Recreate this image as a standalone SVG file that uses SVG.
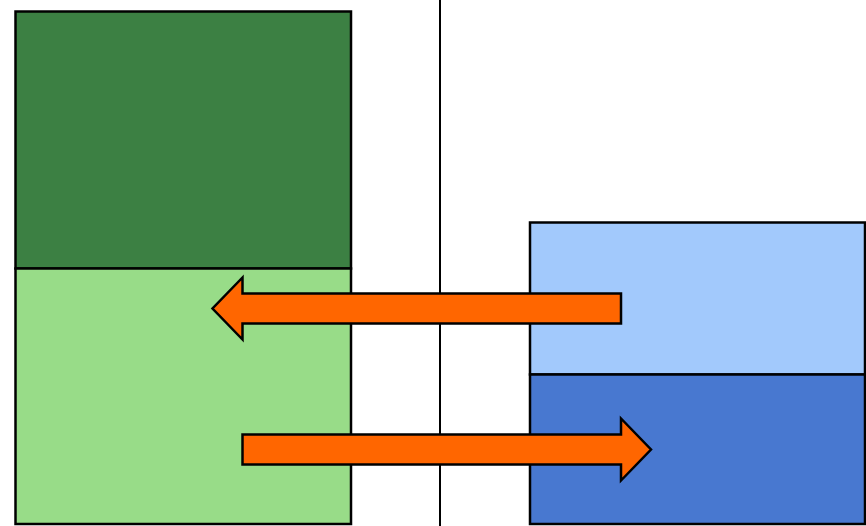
<svg xmlns="http://www.w3.org/2000/svg" width="866" height="526" viewBox="0 0 866 526">
<style>
.box{stroke:#000;stroke-width:2.5}
.arrow{fill:#ff6600;stroke:#000;stroke-width:2.5;stroke-linejoin:miter}
</style>
<rect width="866" height="526" fill="#fff"/>
<g id="divider"><line x1="440" y1="0" x2="440" y2="526" stroke="#000" stroke-width="2"/></g>
<g id="green-top"><rect class="box" x="15.5" y="11.5" width="335.5" height="257" fill="#3c8043"/></g>
<g id="green-bottom"><rect class="box" x="15.5" y="268.5" width="335.5" height="255.5" fill="#98dc88"/></g>
<g id="blue-top"><rect class="box" x="530" y="222.5" width="335" height="152" fill="#a2c9fc"/></g>
<g id="blue-bottom"><rect class="box" x="530" y="374.5" width="335" height="149.5" fill="#4878d0"/></g>
<g id="connectors">
<polygon class="arrow" points="621,293.5 242.5,293.5 242.5,277.5 212.5,308.5 242.5,339.5 242.5,323.5 621,323.5"/>
<polygon class="arrow" points="242.5,434.5 621,434.5 621,418.5 651,449.5 621,480.5 621,464.5 242.5,464.5"/>
</g>
</svg>
